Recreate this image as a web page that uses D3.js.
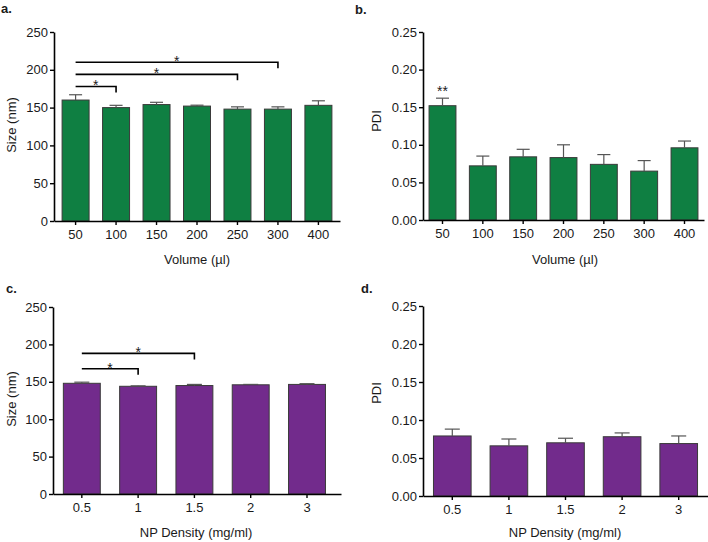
<!DOCTYPE html>
<html>
<head>
<meta charset="utf-8">
<script src="https://cdn.jsdelivr.net/npm/d3@7/dist/d3.min.js"></script>
<style>
  html, body { margin: 0; padding: 0; background: #fff; }
  svg { display: block; font-family: "Liberation Sans", Arial, sans-serif; }
</style>
</head>
<body>
<svg id="chart" width="708" height="542"></svg>
<script>
// ---------- data ----------
const volumeCats = ["50", "100", "150", "200", "250", "300", "400"];
const sizeVolMean = [160, 150, 154, 152, 148, 148, 153];
const sizeVolErr  = [7, 3, 3, 1.2, 3, 3, 6];
const pdiVolMean  = [0.152, 0.072, 0.084, 0.083, 0.074, 0.065, 0.096];
const pdiVolErr   = [0.010, 0.013, 0.010, 0.017, 0.013, 0.014, 0.009];

const densityCats = ["0.5", "1", "1.5", "2", "3"];
const sizeDenMean = [148, 144, 145, 146, 146.5];
const sizeDenErr  = [1.5, 0.6, 1.5, 0.5, 1];
const pdiDenMean  = [0.079, 0.066, 0.070, 0.078, 0.069];
const pdiDenErr   = [0.009, 0.009, 0.006, 0.005, 0.010];

const sizeTicks = [0, 50, 100, 150, 200, 250];
const pdiTicks  = [0, 0.05, 0.10, 0.15, 0.20, 0.25];

const sizeVolBrackets = [
  { from: "50", to: "100", level: 178, label: "*" },
  { from: "50", to: "250", level: 194, label: "*" },
  { from: "50", to: "300", level: 210, label: "*" }
];
const sizeDenBrackets = [
  { from: "0.5", to: "1",   level: 167.5, label: "*" },
  { from: "0.5", to: "1.5", level: 188,   label: "*" }
];
const pdiVolStars = [{ cat: "50", level: 0.175, label: "**" }];

// ---------- drawing ----------
const svg = d3.select("#chart");
const GREEN = "#0f7f42";
const PURPLE = "#722b8c";
const TEXT = "#1a1a1a";

function panel(o) {
  const g = svg.append("g");
  const x = d3.scaleBand().domain(o.cats).range([o.x0, o.x1])
    .paddingInner(o.pin).paddingOuter(o.pout).align(o.align);
  const y = d3.scaleLinear().domain([0, o.ymax]).range([o.y0, o.y1]);

  // bars
  g.selectAll("rect.bar").data(o.cats).enter().append("rect")
    .attr("x", d => x(d))
    .attr("y", (d, i) => y(o.mean[i]))
    .attr("width", x.bandwidth())
    .attr("height", (d, i) => y(0) - y(o.mean[i]))
    .attr("fill", o.color)
    .attr("stroke", "#3a3a3a")
    .attr("stroke-width", 1);

  // error bars (upper only)
  const eb = g.selectAll("g.err").data(o.cats).enter().append("g");
  eb.append("line")
    .attr("x1", d => x(d) + x.bandwidth() / 2)
    .attr("x2", d => x(d) + x.bandwidth() / 2)
    .attr("y1", (d, i) => y(o.mean[i]))
    .attr("y2", (d, i) => y(o.mean[i] + o.err[i]))
    .attr("stroke", "#555").attr("stroke-width", 1.2);
  eb.append("line")
    .attr("x1", d => x(d) + x.bandwidth() / 2 - o.cap / 2)
    .attr("x2", d => x(d) + x.bandwidth() / 2 + o.cap / 2)
    .attr("y1", (d, i) => y(o.mean[i] + o.err[i]))
    .attr("y2", (d, i) => y(o.mean[i] + o.err[i]))
    .attr("stroke", "#555").attr("stroke-width", 1.2);

  // axes
  const yAxis = d3.axisLeft(y).tickValues(o.ticks).tickFormat(o.fmt)
    .tickSize(4).tickPadding(2).tickSizeOuter(0);
  const ya = g.append("g").attr("transform", `translate(${o.x0},0)`).call(yAxis);
  const xAxis = d3.axisBottom(x).tickSize(4).tickPadding(5).tickSizeOuter(0);
  const xa = g.append("g").attr("transform", `translate(0,${o.y0})`).call(xAxis);
  [ya, xa].forEach(a => {
    a.select(".domain").attr("stroke", "#000").attr("stroke-width", 1.6);
    a.selectAll(".tick line").attr("stroke", "#000").attr("stroke-width", 1.4);
    a.selectAll("text").attr("font-size", 13).attr("fill", TEXT)
      .attr("font-family", "Liberation Sans, Arial, sans-serif");
  });

  // brackets
  (o.brackets || []).forEach(b => {
    const xa1 = x(b.from) + x.bandwidth() / 2;
    const xb1 = x(b.to) + x.bandwidth() / 2;
    const yy = y(b.level);
    g.append("path")
      .attr("d", `M${xa1},${yy}H${xb1}V${yy + 6}`)
      .attr("fill", "none").attr("stroke", "#000").attr("stroke-width", 1.6);
    g.append("text").attr("x", (xa1 + xb1) / 2).attr("y", yy + 4)
      .attr("text-anchor", "middle").attr("font-size", 14).attr("fill", TEXT)
      .text(b.label);
  });
  (o.stars || []).forEach(s => {
    g.append("text").attr("x", x(s.cat) + x.bandwidth() / 2).attr("y", y(s.level) + 8)
      .attr("text-anchor", "middle").attr("font-size", 14).attr("fill", TEXT)
      .text(s.label);
  });

  // titles
  g.append("text").attr("transform", `translate(${o.ytx},${o.yty}) rotate(-90)`)
    .attr("text-anchor", "middle").attr("font-size", 13).attr("fill", TEXT)
    .text(o.ytitle);
  g.append("text").attr("x", o.xtx).attr("y", o.xty)
    .attr("text-anchor", "middle").attr("font-size", 13).attr("fill", TEXT)
    .text(o.xtitle);
  g.append("text").attr("x", o.lx).attr("y", o.ly)
    .attr("font-size", 13).attr("font-weight", "bold").attr("fill", TEXT)
    .text(o.letter);
}

panel({
  cats: volumeCats, mean: sizeVolMean, err: sizeVolErr, color: GREEN,
  x0: 54, x1: 340, pin: 0.333, pout: 0.2, align: 0.5, cap: 13,
  ymax: 250, y0: 221, y1: 32, ticks: sizeTicks, fmt: d3.format("d"),
  brackets: sizeVolBrackets,
  ytitle: "Size (nm)", ytx: 16, yty: 125,
  xtitle: "Volume (µl)", xtx: 197, xty: 264,
  letter: "a.", lx: 1, ly: 13
});
panel({
  cats: volumeCats, mean: pdiVolMean, err: pdiVolErr, color: GREEN,
  x0: 423, x1: 704, pin: 0.333, pout: 0.15, align: 0.5, cap: 13,
  ymax: 0.25, y0: 220, y1: 32, ticks: pdiTicks, fmt: d3.format(".2f"),
  stars: pdiVolStars,
  ytitle: "PDI", ytx: 381, yty: 121,
  xtitle: "Volume (µl)", xtx: 565, xty: 264,
  letter: "b.", lx: 355, ly: 14
});
panel({
  cats: densityCats, mean: sizeDenMean, err: sizeDenErr, color: PURPLE,
  x0: 53, x1: 341, pin: 0.344, pout: 0.23, align: 0.4, cap: 15,
  ymax: 250, y0: 494, y1: 307, ticks: sizeTicks, fmt: d3.format("d"),
  brackets: sizeDenBrackets,
  ytitle: "Size (nm)", ytx: 16, yty: 399,
  xtitle: "NP Density (mg/ml)", xtx: 196, xty: 537,
  letter: "c.", lx: 6, ly: 293
});
panel({
  cats: densityCats, mean: pdiDenMean, err: pdiDenErr, color: PURPLE,
  x0: 423, x1: 708, pin: 0.335, pout: 0.185, align: 0.5, cap: 15,
  ymax: 0.25, y0: 496, y1: 306, ticks: pdiTicks, fmt: d3.format(".2f"),
  ytitle: "PDI", ytx: 381, yty: 393,
  xtitle: "NP Density (mg/ml)", xtx: 565, xty: 537,
  letter: "d.", lx: 361, ly: 293
});
</script>
</body>
</html>
